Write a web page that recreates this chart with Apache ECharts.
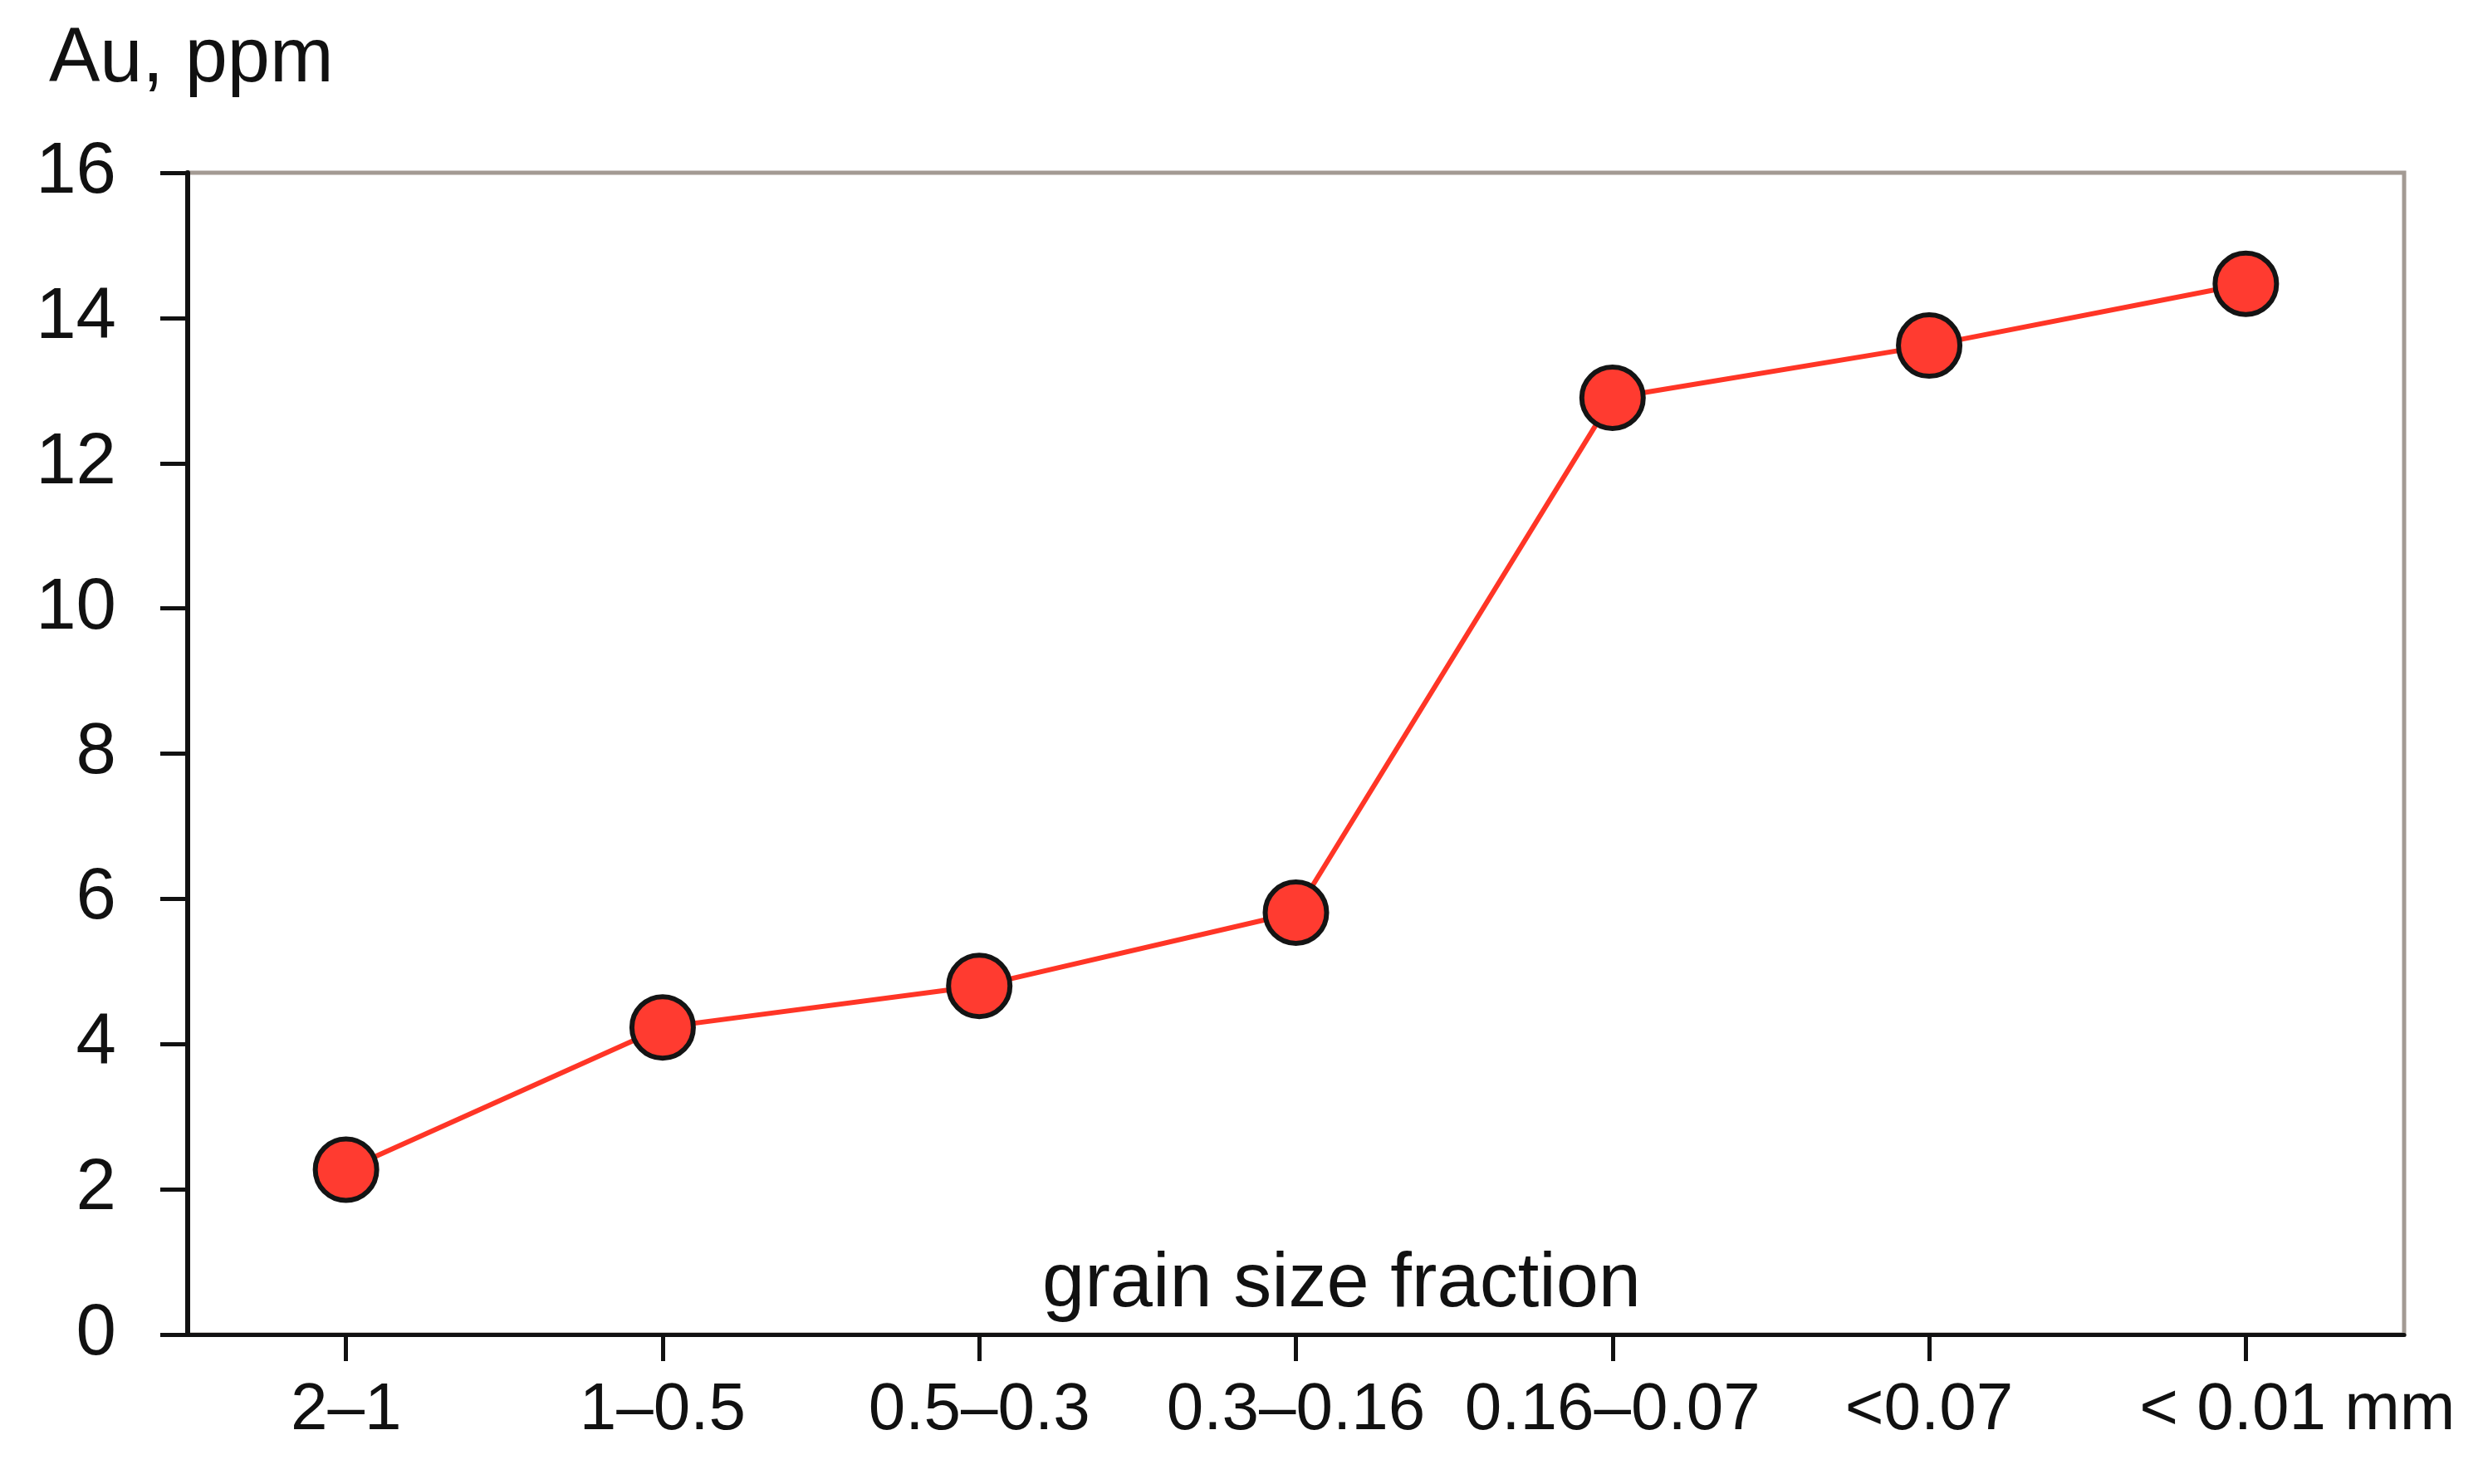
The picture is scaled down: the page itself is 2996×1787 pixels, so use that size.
<!DOCTYPE html>
<html>
<head>
<meta charset="utf-8">
<script src="https://cdn.jsdelivr.net/npm/echarts@6/dist/echarts.min.js"></script>
<style>
  html, body { margin: 0; padding: 0; background: #fff; }
  #chart { width: 2996px; height: 1787px; }
</style>
</head>
<body>
<div id="chart"></div>
<script>
// grain size fractions
const categories = ['2–1', '1–0.5', '0.5–0.3', '0.3–0.16', '0.16–0.07', '<0.07', '< 0.01 mm'];
// Au content, ppm
const auValues = [2.27, 4.23, 4.8, 5.81, 12.9, 13.62, 14.47];
const yMin = 0;
const yMax = 16;
const yStep = 2;

const FONT = '"Liberation Sans", Arial, sans-serif';

const chart = echarts.init(document.getElementById('chart'));

// last label: "< 0.01" sits on the tick, " mm" hangs to the right
const xData = categories.map((c, i) => i === categories.length - 1
  ? { value: c, textStyle: { padding: [0, 0, 0, 124] } }
  : c);

const option = {
  backgroundColor: '#ffffff',
  animation: false,
  title: {
    text: 'Au, ppm',
    left: 54,
    top: 22,
    textStyle: { fontFamily: FONT, fontSize: 92, fontWeight: 'normal', color: '#111' }
  },
  grid: {
    left: 226,
    right: 101,
    top: 208,
    bottom: 180,
    show: true,
    borderColor: '#a39a93',
    borderWidth: 5,
    backgroundColor: 'transparent'
  },
  xAxis: {
    type: 'category',
    data: xData,
    boundaryGap: true,
    axisLine: { show: true, lineStyle: { color: '#111', width: 5 } },
    axisTick: { show: true, alignWithLabel: true, length: 32, lineStyle: { color: '#111', width: 5 } },
    axisLabel: { fontFamily: FONT, fontSize: 80, color: '#111', margin: 52, interval: 0 },
    splitLine: { show: false }
  },
  yAxis: {
    type: 'value',
    min: yMin,
    max: yMax,
    interval: yStep,
    axisLine: { show: true, lineStyle: { color: '#111', width: 6 } },
    axisTick: { show: true, length: 33, lineStyle: { color: '#111', width: 5 } },
    axisLabel: { fontFamily: FONT, fontSize: 87, color: '#111', margin: 86 },
    splitLine: { show: false }
  },
  graphic: [
    {
      type: 'text',
      left: 1255,
      top: 1502,
      style: { text: 'grain size fraction', fontFamily: FONT, fontSize: 92, fill: '#111' }
    }
  ],
  series: [
    {
      type: 'line',
      data: auValues,
      symbol: 'circle',
      symbolSize: 74,
      lineStyle: { color: '#ff3526', width: 6 },
      itemStyle: { color: '#ff3b30', borderColor: '#141414', borderWidth: 6 },
      z: 5
    }
  ]
};

chart.setOption(option);
</script>
</body>
</html>
